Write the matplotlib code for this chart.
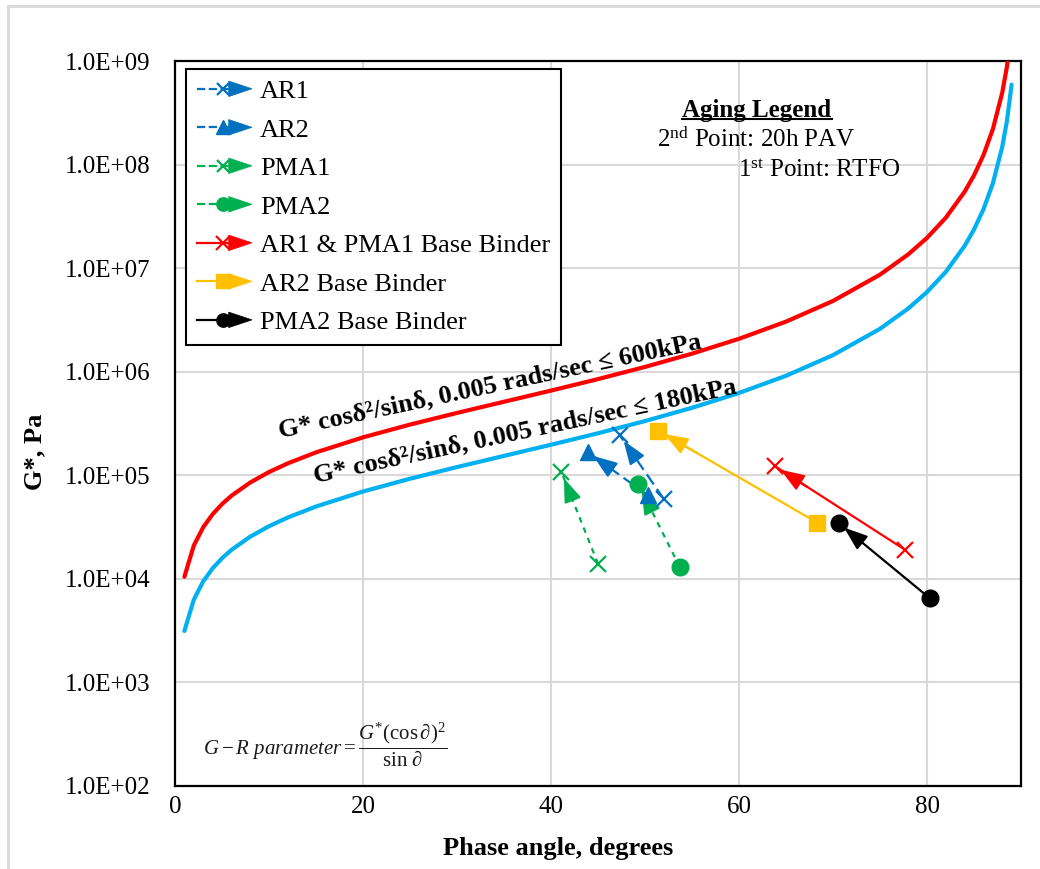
import matplotlib
matplotlib.use('Agg')
import matplotlib.pyplot as plt
from matplotlib.lines import Line2D
from matplotlib.patches import Polygon
from matplotlib.legend_handler import HandlerBase
from matplotlib.ticker import FuncFormatter, FixedLocator, NullLocator

plt.rcParams['font.family'] = ['Liberation Serif', 'DejaVu Serif']
plt.rcParams['mathtext.fontset'] = 'custom'
plt.rcParams['mathtext.rm'] = 'Liberation Serif'
plt.rcParams['mathtext.it'] = 'Liberation Serif:italic'
plt.rcParams['mathtext.bf'] = 'Liberation Serif:bold'

# ---------------- data ----------------
curve_angle = [1, 2, 3, 4, 5, 6, 8, 10, 12, 15, 20, 25, 30, 35, 40, 45, 50, 55,
               60, 65, 70, 75, 78, 80, 82, 84, 85, 86, 87, 88, 88.5, 89]
gr_600kpa = [10475, 20965, 31488, 42058, 52694, 63410, 85154, 107430, 130383,
             166440, 232398, 308706, 400000, 512870, 657224, 848528, 1112420,
             1493930, 2078461, 3044620, 4819850, 8651740, 13577000, 19595500,
             30676000, 54614000, 78688000, 123007000, 218760000, 492300000,
             875600000, 1969600000]
gr_180kpa = [3142, 6290, 9446, 12617, 15808, 19023, 25546, 32229, 39115, 49932,
             69719, 92612, 120000, 153861, 197167, 254558, 333726, 448179,
             623538, 913386, 1445955, 2595522, 4073100, 5878650, 9202800,
             16384200, 23606400, 36902100, 65628000, 147690000, 262680000,
             590880000]

series_names = ['AR1', 'AR2', 'PMA1', 'PMA2', 'AR1 & PMA1 Base Binder',
                'AR2 Base Binder', 'PMA2 Base Binder']
rtfo_angle = [52.0, 50.3, 45.0, 53.7, 77.7, 68.3, 80.3]
rtfo_g = [5.9e4, 6.4e4, 1.4e4, 1.3e4, 1.9e4, 3.5e4, 6.5e3]
pav_angle = [47.3, 43.9, 41.1, 49.3, 63.8, 51.4, 70.6]
pav_g = [2.45e5, 1.68e5, 1.08e5, 8.2e4, 1.23e5, 2.7e5, 3.45e4]

x_ticks = [0, 20, 40, 60, 80]
y_ticks = [1e2, 1e3, 1e4, 1e5, 1e6, 1e7, 1e8, 1e9]

# ---------------- styles ----------------
BLUE = '#0070C0'
GREEN = '#00B050'
long_dash = (0, (5.5, 2.5))
short_dash = (0, (2.5, 2.5))
styles = [
    dict(color=BLUE, ls=long_dash, marker='x', ms=11, mew=1.6),
    dict(color=BLUE, ls=long_dash, marker='^', ms=12, mew=1),
    dict(color=GREEN, ls=short_dash, marker='x', ms=11, mew=1.6),
    dict(color=GREEN, ls=short_dash, marker='o', ms=12, mew=1),
    dict(color='#FF0000', ls='-', marker='x', ms=12, mew=1.6),
    dict(color='#FFC000', ls='-', marker='s', ms=12, mew=1),
    dict(color='black', ls='-', marker='o', ms=12, mew=1),
]

W, H = 1040, 869
fig = plt.figure(figsize=(W / 100, H / 100), dpi=100)
ax = fig.add_axes([175 / W, 1 - 786 / H, (1021 - 175) / W, (786 - 61) / H])


def fx(px):
    return px / W


def fy(py):
    return 1 - py / H


# G-R curves
ax.plot(curve_angle, gr_600kpa, color='#FF0000', lw=3, zorder=3,
        solid_capstyle='round')
ax.plot(curve_angle, gr_180kpa, color='#00B0F0', lw=3, zorder=3,
        solid_capstyle='round')

handles = []
for i, name in enumerate(series_names):
    st = styles[i]
    xs = [rtfo_angle[i], pav_angle[i]]
    ys = [rtfo_g[i], pav_g[i]]
    ax.plot(xs, ys, color=st['color'], ls=st['ls'], lw=1.6, zorder=4)
    # arrow head at 2nd point
    fxp = 0.75
    xa = xs[0] + (xs[1] - xs[0]) * fxp
    ya = ys[0] * (ys[1] / ys[0]) ** fxp
    ax.annotate('', xy=(xs[1], ys[1]), xytext=(xa, ya),
                arrowprops=dict(arrowstyle='-|>,head_length=0.6,head_width=0.22',
                                color=st['color'], lw=1.6, shrinkA=0,
                                shrinkB=5, mutation_scale=24),
                zorder=5)
    ax.plot(xs, ys, ls='none', marker=st['marker'], ms=st['ms'],
            mew=st['mew'], color=st['color'], zorder=6)
    h = Line2D([], [], color=st['color'], ls=st['ls'], lw=1.6,
               marker=st['marker'], ms=st['ms'], mew=st['mew'])
    handles.append(h)


class ArrowHandler(HandlerBase):
    def create_artists(self, legend, orig_handle, xdescent, ydescent, width,
                       height, fontsize, trans):
        c = orig_handle.get_color()
        y = height / 2 - ydescent
        x0 = -xdescent
        x1 = x0 + width
        line = Line2D([x0, x1 - 0.3 * width], [y, y], color=c,
                      linestyle=orig_handle.get_linestyle(), lw=1.6)
        mk = Line2D([x0 + 0.47 * width], [y], ls='none', color=c,
                    marker=orig_handle.get_marker(),
                    ms=orig_handle.get_markersize() * 0.8,
                    mew=orig_handle.get_markeredgewidth())
        hl = 0.42 * width
        hw = 0.42 * height
        head = Polygon([[x1 - hl, y + hw], [x1, y], [x1 - hl, y - hw]],
                       closed=True, facecolor=c, edgecolor=c, lw=0.5)
        for a in (line, mk, head):
            a.set_transform(trans)
        return [line, mk, head]


leg = ax.legend(handles, series_names, loc='upper left',
                bbox_to_anchor=(11 / (1021 - 175), 1 - 8 / 725),
                borderaxespad=0, fontsize=19, frameon=True, fancybox=False,
                edgecolor='black', framealpha=1, handlelength=2.1,
                handletextpad=0.3, labelspacing=0.57, borderpad=0.4,
                handler_map={Line2D: ArrowHandler()})
leg.get_frame().set_linewidth(1.5)
leg.set_zorder(10)

# axes formatting
ax.set_xlim(0, 90)
ax.set_yscale('log')
ax.set_ylim(1e2, 1e9)
ax.xaxis.set_major_locator(FixedLocator(x_ticks))
ax.yaxis.set_major_locator(FixedLocator(y_ticks))
ax.yaxis.set_minor_locator(NullLocator())
ax.yaxis.set_major_formatter(FuncFormatter(lambda v, p: f'{v:.1E}'))
ax.tick_params(axis='both', length=0, labelsize=18)
ax.tick_params(axis='y', pad=18)
ax.tick_params(axis='x', pad=7)
ax.grid(True, color='#D9D9D9', lw=1.5)
ax.set_axisbelow(True)
for s in ax.spines.values():
    s.set_linewidth(1.6)
    s.set_color('black')

fig.text(fx(558), fy(848), 'Phase angle, degrees', ha='center', va='center',
         fontsize=19, fontweight='bold')
fig.text(fx(35), fy(452), 'G*, Pa', ha='center', va='center', rotation=90,
         fontsize=19, fontweight='bold')

# curve labels
fig.text(fx(490), fy(386), 'G* cosδ²/sinδ, 0.005 rads/sec ≤ 600kPa',
         ha='center', va='center', rotation=12, rotation_mode='anchor',
         fontsize=19, fontweight='bold')
fig.text(fx(525), fy(431), 'G* cosδ²/sinδ, 0.005 rads/sec ≤ 180kPa',
         ha='center', va='center', rotation=12, rotation_mode='anchor',
         fontsize=19, fontweight='bold')

# aging legend
t_aging = fig.text(fx(757), fy(110), 'Aging Legend', ha='center', va='center',
                   fontsize=18, fontweight='bold')
fig.text(fx(657), fy(140), r'2$^{\rm nd}$ Point: 20h PAV', ha='left',
         va='center', fontsize=18)
fig.text(fx(738), fy(171), r'1$^{\rm st}$ Point: RTFO', ha='left',
         va='center', fontsize=18)

# formula
fig.text(fx(325), fy(745),
         r'$G-R\ parameter=\dfrac{G^{*}(\cos\partial)^{2}}{\sin\,\partial}$',
         ha='center', va='center', fontsize=15, color='#1a1a1a')

# outer border (light gray)
fig.add_artist(Line2D([fx(8), fx(8)], [0, fy(6)], color='#D9D9D9', lw=2))
fig.add_artist(Line2D([fx(8), 1], [fy(6), fy(6)], color='#D9D9D9', lw=2))

# underline for "Aging Legend"
fig.canvas.draw()
bb = t_aging.get_window_extent()
fig.add_artist(Line2D([bb.x0 / W, bb.x1 / W], [(bb.y0 + 3) / H, (bb.y0 + 3) / H],
                      color='black', lw=1.5))

fig.savefig('out.png', dpi=100)
